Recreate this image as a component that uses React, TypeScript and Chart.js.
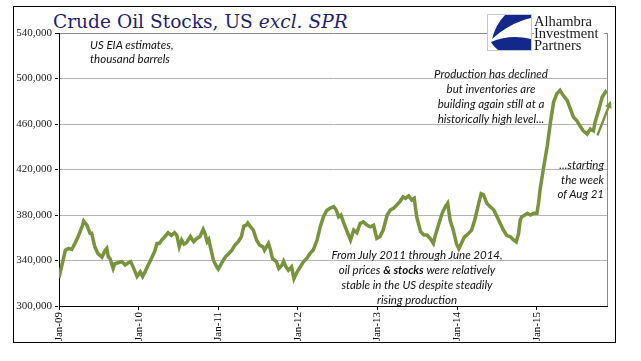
import React, { useEffect, useRef } from 'react';
import { Chart, registerables } from 'chart.js';

Chart.register(...registerables);

// Weekly-ish observation dates as decimal years
const dates: number[] = [
  2009.00, 2009.03, 2009.08, 2009.12, 2009.16, 2009.20, 2009.24, 2009.29, 2009.31, 2009.35,
  2009.39, 2009.41, 2009.45, 2009.49, 2009.54, 2009.58, 2009.60, 2009.62, 2009.64, 2009.68,
  2009.70, 2009.74, 2009.79, 2009.83, 2009.87, 2009.90, 2009.93, 2009.98, 2010.02, 2010.05,
  2010.08, 2010.12, 2010.16, 2010.20, 2010.23, 2010.26, 2010.29, 2010.33, 2010.37, 2010.41,
  2010.45, 2010.48, 2010.51, 2010.54, 2010.57, 2010.60, 2010.65, 2010.69, 2010.73, 2010.77,
  2010.81, 2010.83, 2010.86, 2010.88, 2010.91, 2010.94, 2010.98, 2011.00, 2011.04, 2011.09,
  2011.13, 2011.17, 2011.21, 2011.25, 2011.29, 2011.32, 2011.35, 2011.37, 2011.40, 2011.44,
  2011.48, 2011.52, 2011.56, 2011.58, 2011.63, 2011.65, 2011.68, 2011.73, 2011.76, 2011.80,
  2011.82, 2011.85, 2011.88, 2011.92, 2011.95, 2011.99, 2012.03, 2012.07, 2012.11, 2012.15,
  2012.19, 2012.24, 2012.28, 2012.32, 2012.36, 2012.40, 2012.45, 2012.48, 2012.51, 2012.54,
  2012.57, 2012.61, 2012.66, 2012.70, 2012.74, 2012.78, 2012.82, 2012.87, 2012.91, 2012.95,
  2012.99, 2013.03, 2013.07, 2013.12, 2013.16, 2013.20, 2013.24, 2013.28, 2013.32, 2013.35,
  2013.39, 2013.43, 2013.46, 2013.49, 2013.54, 2013.58, 2013.62, 2013.66, 2013.70, 2013.72,
  2013.77, 2013.81, 2013.85, 2013.88, 2013.91, 2013.95, 2013.99, 2014.02, 2014.05, 2014.09,
  2014.13, 2014.18, 2014.22, 2014.27, 2014.30, 2014.33, 2014.37, 2014.41, 2014.46, 2014.50,
  2014.54, 2014.58, 2014.62, 2014.67, 2014.71, 2014.74, 2014.77, 2014.79, 2014.81, 2014.85,
  2014.88, 2014.92, 2014.96, 2015.00, 2015.02, 2015.04, 2015.08, 2015.13, 2015.17, 2015.21,
  2015.25, 2015.29, 2015.33, 2015.38, 2015.42, 2015.46, 2015.50, 2015.54, 2015.58, 2015.63,
  2015.67, 2015.71, 2015.73, 2015.78, 2015.82, 2015.86, 2015.87,
];

// Crude oil stocks excl. SPR, thousand barrels
const stocks: number[] = [
  325000, 334000, 349000, 350600, 349700, 355000, 361000, 369700, 374700, 371000,
  364000, 364000, 352000, 346000, 343000, 349000, 350600, 343000, 341800, 333000,
  337000, 338000, 339000, 336000, 338000, 339000, 334400, 326000, 330000, 326000,
  330000, 336000, 341800, 347700, 355000, 355000, 358000, 361000, 364400, 362000,
  364400, 362000, 352000, 358000, 354400, 355600, 361000, 356500, 359400, 361000,
  367400, 364400, 356500, 358500, 349000, 340000, 334400, 332400, 337400, 343300,
  346000, 349000, 353500, 356500, 361000, 370300, 371000, 373000, 370000, 366800,
  358000, 353500, 352000, 349000, 355000, 350600, 341800, 339000, 333000, 336000,
  339400, 334400, 331500, 334400, 324000, 330000, 334400, 339000, 341800, 346000,
  349000, 358000, 369700, 378500, 383800, 385900, 387300, 384400, 378500, 380000,
  374000, 366800, 358000, 366800, 364400, 372600, 374000, 371000, 369700, 371000,
  359400, 361000, 366800, 380000, 384400, 385900, 388800, 391800, 396000, 394700,
  396800, 393200, 394700, 378500, 365300, 362400, 362400, 359400, 355000, 361000,
  372600, 381500, 387300, 390300, 375600, 366700, 354800, 350400, 354800, 360700,
  363000, 366700, 375600, 390400, 398700, 397800, 390400, 387400, 384400, 378500,
  372600, 366700, 362200, 360700, 357800, 356300, 363700, 375600, 378500, 380000,
  381500, 380000, 381500, 381500, 390400, 402200, 420000, 440700, 461500, 479300,
  486700, 489600, 485200, 480700, 473300, 465900, 463000, 458500, 454100, 451100,
  455600, 454100, 461500, 473300, 483700, 488100, 486700,
];

const xTickYears: number[] = [2009, 2010, 2011, 2012, 2013, 2014, 2015];
const xTickLabels: string[] = ['Jan-09', 'Jan-10', 'Jan-11', 'Jan-12', 'Jan-13', 'Jan-14', 'Jan-15'];
const yMin = 300000;
const yMax = 540000;
const yStep = 40000;
const xMin = 2009;
const xMax = 2015.88;

// Annotation arrow (data coordinates): tail, head
const arrowFrom: [number, number] = [2015.76, 450000];
const arrowTo: [number, number] = [2015.93, 480500];

const GREEN = '#77933C';

const framePlugin = {
  id: 'frame',
  afterDraw(chart: any) {
    const { ctx, chartArea } = chart;
    ctx.save();
    ctx.strokeStyle = '#8C8C8C';
    ctx.lineWidth = 1;
    ctx.beginPath();
    ctx.moveTo(Math.round(chartArea.right) + 0.5, chartArea.top);
    ctx.lineTo(Math.round(chartArea.right) + 0.5, chartArea.bottom);
    ctx.stroke();
    // arrow
    const xs = chart.scales.x;
    const ys = chart.scales.y;
    const x1 = xs.getPixelForValue(arrowFrom[0]);
    const y1 = ys.getPixelForValue(arrowFrom[1]);
    const x2 = xs.getPixelForValue(arrowTo[0]);
    const y2 = ys.getPixelForValue(arrowTo[1]);
    const ang = Math.atan2(y2 - y1, x2 - x1);
    ctx.strokeStyle = GREEN;
    ctx.fillStyle = GREEN;
    ctx.lineWidth = 2.5;
    ctx.beginPath();
    ctx.moveTo(x1, y1);
    ctx.lineTo(x2 - 4 * Math.cos(ang), y2 - 4 * Math.sin(ang));
    ctx.stroke();
    ctx.beginPath();
    ctx.moveTo(x2, y2);
    ctx.lineTo(x2 - 8 * Math.cos(ang - 0.45), y2 - 8 * Math.sin(ang - 0.45));
    ctx.lineTo(x2 - 8 * Math.cos(ang + 0.45), y2 - 8 * Math.sin(ang + 0.45));
    ctx.closePath();
    ctx.fill();
    ctx.restore();
  },
};

const annoStyle: React.CSSProperties = {
  position: 'absolute',
  fontFamily: 'Lato, "Open Sans", sans-serif',
  fontStyle: 'italic',
  fontSize: '11.5px',
  color: '#111',
  whiteSpace: 'nowrap',
};

export default function App() {
  const canvasRef = useRef<HTMLCanvasElement | null>(null);

  useEffect(() => {
    document.body.style.margin = '0';
    const canvas = canvasRef.current;
    if (!canvas) return;
    const chart = new Chart(canvas, {
      type: 'line',
      data: {
        datasets: [
          {
            data: dates.map((d, i) => ({ x: d, y: stocks[i] })),
            borderColor: GREEN,
            borderWidth: 3.5,
            pointRadius: 0,
            tension: 0,
            fill: false,
          },
        ],
      },
      options: {
        animation: false,
        responsive: false,
        maintainAspectRatio: false,
        devicePixelRatio: 1,
        layout: { padding: { top: 33, right: 34, left: 0, bottom: 0 } },
        plugins: { legend: { display: false }, tooltip: { enabled: false }, title: { display: false } },
        scales: {
          x: {
            type: 'linear',
            min: xMin,
            max: xMax,
            afterFit: (scale: any) => {
              scale.height = 55;
            },
            afterBuildTicks: (scale: any) => {
              scale.ticks = xTickYears.map((v) => ({ value: v }));
            },
            ticks: {
              autoSkip: false,
              minRotation: 90,
              maxRotation: 90,
              padding: 2,
              color: '#000',
              font: { family: '"Liberation Serif", "Times New Roman", serif', size: 11 },
              callback: (value: any) => {
                const idx = xTickYears.indexOf(Number(value));
                return idx >= 0 ? xTickLabels[idx] : '';
              },
            },
            grid: {
              drawOnChartArea: false,
              drawTicks: true,
              tickLength: 4,
              tickColor: '#000',
            },
            border: { color: '#000', width: 1 },
          },
          y: {
            type: 'linear',
            min: yMin,
            max: yMax,
            afterFit: (scale: any) => {
              scale.width = 59;
            },
            ticks: {
              stepSize: yStep,
              padding: 3,
              color: '#222',
              font: { family: '"Liberation Serif", "Times New Roman", serif', size: 11 },
              callback: (value: any) => Number(value).toLocaleString('en-US'),
            },
            grid: {
              drawTicks: true,
              tickLength: 4,
              tickColor: '#000',
              color: (ctx: any) =>
                ctx.tick && ctx.tick.value === yMin
                  ? 'rgba(0,0,0,0)'
                  : ctx.tick && ctx.tick.value === yMax
                  ? '#8C8C8C'
                  : '#B4B4B4',
              borderDash: (ctx: any) => (ctx.tick && ctx.tick.value === yMax ? [] : [3, 2]),
              tickBorderDash: (ctx: any) => (ctx.tick && ctx.tick.value === yMax ? [] : [3, 2]),
            } as any,
            border: { color: '#000', width: 1 },
          },
        },
      } as any,
      plugins: [framePlugin],
    });
    return () => chart.destroy();
  }, []);

  return (
    <div style={{ position: 'relative', width: 641, height: 361, background: '#fff', overflow: 'hidden' }}>
      <canvas ref={canvasRef} width={641} height={361} style={{ position: 'absolute', left: 0, top: 0 }} />
      <div
        style={{
          position: 'absolute',
          left: 13,
          top: 6,
          width: 603,
          height: 337,
          border: '1px solid #000',
          boxSizing: 'border-box',
          pointerEvents: 'none',
        }}
      />
      <div
        style={{
          position: 'absolute',
          left: 53,
          top: 11,
          fontFamily: '"DejaVu Serif", serif',
          fontSize: '18.6px',
          lineHeight: '21px',
          color: '#1F1F6E',
          whiteSpace: 'nowrap',
          background: '#fff',
          paddingRight: 4,
        }}
      >
        Crude Oil Stocks, US <i>excl. SPR</i>
      </div>
      <div
        style={{
          position: 'absolute',
          left: 487,
          top: 14,
          width: 45,
          height: 37,
          boxSizing: 'border-box',
          border: '1px solid #C8C8C8',
          background: '#fff',
        }}
      >
        <svg width={43} height={35} viewBox="0 0 43 35" style={{ display: 'block' }}>
          <path d="M17,0 L43,0 L43,3 Q22,8 4,24 Q8,9 17,0 Z" fill="#14288C" />
          <path d="M3,27 Q22,19 43,24 L43,35 L10,35 Q5,31 3,27 Z" fill="#14288C" />
        </svg>
      </div>
      <div
        style={{
          position: 'absolute',
          left: 534,
          top: 14,
          fontFamily: '"Liberation Serif", serif',
          fontSize: '14.5px',
          lineHeight: '12px',
          color: '#1a1a1a',
          background: '#fff',
          paddingRight: 6,
          paddingTop: 1,
          paddingBottom: 3,
        }}
      >
        <div>Alhambra</div>
        <div>Investment</div>
        <div>Partners</div>
      </div>
      <div style={{ ...annoStyle, left: 90, top: 38, lineHeight: '14px' }}>
        <div>US EIA estimates,</div>
        <div>thousand barrels</div>
      </div>
      <div style={{ ...annoStyle, left: 411, top: 66, width: 160, textAlign: 'center', lineHeight: '15px' }}>
        <div>Production has declined</div>
        <div>but inventories are</div>
        <div>building again still at a</div>
        <div>historically high level...</div>
      </div>
      <div style={{ ...annoStyle, right: 37, top: 158, textAlign: 'right', lineHeight: '14.5px' }}>
        <div>...starting</div>
        <div>the week</div>
        <div>of Aug 21</div>
      </div>
      <div style={{ ...annoStyle, left: 307, top: 247, width: 220, textAlign: 'center', lineHeight: '15px' }}>
        <div>From July 2011 through June 2014,</div>
        <div>
          oil prices <b>&amp; stocks</b> were relatively
        </div>
        <div>stable in the US despite steadily</div>
        <div>rising production</div>
      </div>
    </div>
  );
}
